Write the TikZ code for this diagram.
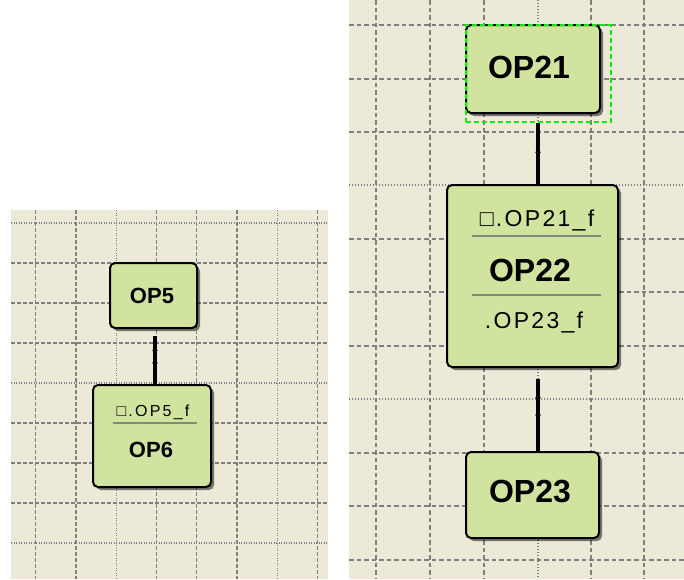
\documentclass[tikz,border=0pt]{standalone}
\usepackage{fontspec}
\setmainfont{Liberation Sans}
\newfontfamily\subR[LetterSpace=10]{Liberation Sans}
\newfontfamily\subL[LetterSpace=14]{Liberation Sans}
\usetikzlibrary{shapes.geometric,shadows}
\definecolor{panelbg}{RGB}{236,233,216}
\definecolor{boxfill}{RGB}{208,228,160}
\definecolor{gridc}{RGB}{128,128,128}
\definecolor{sepc}{RGB}{125,140,125}
\definecolor{selc}{RGB}{0,240,0}
\tikzset{
  gdashL/.style={gridc, line width=1.4pt, dash pattern=on 3.5pt off 2.5pt},
  gdotL/.style={gridc, line width=1.2pt, dash pattern=on 1pt off 1.5pt},
  gdashR/.style={gridc, line width=1.7pt, dash pattern=on 4.5pt off 3pt},
  gdotR/.style={gridc, line width=1.4pt, dash pattern=on 1.2pt off 1.8pt},
  boxst/.style={draw=black, line width=2pt, fill=boxfill, rounded corners=5pt, inner sep=0pt,
    drop shadow={shadow xshift=3pt, shadow yshift=-3pt, opacity=0.5, fill=black}},
  bigL/.style={font=\bfseries\fontsize{22}{22}\selectfont, inner sep=0pt},
  bigR/.style={font=\bfseries\fontsize{32}{32}\selectfont, inner sep=0pt},
  smallL/.style={font=\subL\fontsize{16}{16}\selectfont, inner sep=0pt},
  smallR/.style={font=\subR\fontsize{23}{23}\selectfont, inner sep=0pt},
  sepline/.style={sepc, line width=2pt},
  conn/.style={black, line width=4pt},
  mk/.style={diamond, fill=black, inner sep=0pt, minimum width=7pt, minimum height=10pt},
  selbox/.style={draw=selc, line width=2.5pt, dash pattern=on 5pt off 3pt, inner sep=0pt}
}
\begin{document}
\begin{tikzpicture}[x=1pt,y=-1pt]
\useasboundingbox (0,0) rectangle (684,579);
\fill[white] (0,0) rectangle (684,579);
% panels
\fill[panelbg] (11,210) rectangle (328,579);
\fill[panelbg] (349,0) rectangle (684,579);
% left grid
\begin{scope}
\clip (11,210) rectangle (328,579);
\foreach \x in {35.5,75.8,156.4,196.7,237,317.6} \draw[gdashL] (\x,210) -- (\x,579);
\foreach \x in {116.1,277.3} \draw[gdotL] (\x,210) -- (\x,579);
\foreach \y in {263,303,343,423,463,503} \draw[gdashL] (11,\y) -- (328,\y);
\foreach \y in {223,383,543} \draw[gdotL] (11,\y) -- (328,\y);
\end{scope}
% right grid
\begin{scope}
\clip (349,0) rectangle (684,579);
\foreach \x in {376,430,484,591,644} \draw[gdashR] (\x,0) -- (\x,579);
\foreach \x in {538} \draw[gdotR] (\x,0) -- (\x,579);
\foreach \y in {25,79,132,239,292,346,453,506,560} \draw[gdashR] (349,\y) -- (684,\y);
\foreach \y in {185,399} \draw[gdotR] (349,\y) -- (684,\y);
\end{scope}
% left nodes
\node[boxst, minimum width=87pt, minimum height=65pt] (op5) at (153.5,295.5) {};
\node[bigL] (op5t) at (152,296) {OP5};
\node[boxst, minimum width=118pt, minimum height=102pt] (op6) at (152,436) {};
\node[smallL] (op6a) at (153,412) {□.OP5\_f};
\draw[sepline] (113,423) -- (197,423);
\node[bigL] (op6t) at (151,450) {OP6};
% right nodes
\node[boxst, minimum width=134pt, minimum height=88pt] (op21) at (533,69) {};
\node[bigR] (op21t) at (529,67) {OP21};
\node[boxst, minimum width=171pt, minimum height=182pt] (op22) at (532.5,276) {};
\node[smallR] (op22a) at (537,220) {□.OP21\_f};
\draw[sepline] (472,236) -- (601,236);
\node[bigR] (op22t) at (530,270) {OP22};
\draw[sepline] (472,295) -- (601,295);
\node[smallR] (op22b) at (534,322) {.OP23\_f};
\node[boxst, minimum width=133pt, minimum height=86pt] (op23) at (532.5,495) {};
\node[bigR] (op23t) at (530,491) {OP23};
% selection frame
\node[selbox, minimum width=145pt, minimum height=97pt] (sel) at (538.5,73.5) {};
% connectors
\draw[conn] ([xshift=1.5pt,yshift=-7pt]op5.south) -- node[mk,pos=0.3] (m1) {} node[mk,pos=0.56] (m2) {} ([xshift=3pt]op6.north);
\draw[conn] ([xshift=-0.5pt]sel.south) -- node[mk,pos=0.48] (m3) {} ([xshift=5.5pt]op22.north);
\draw[conn] ([xshift=5.5pt,yshift=-11pt]op22.south) -- node[mk,pos=0.26] (m4) {} node[mk,pos=0.5] (m5) {} ([xshift=5.5pt]op23.north);
\end{tikzpicture}
\end{document}
